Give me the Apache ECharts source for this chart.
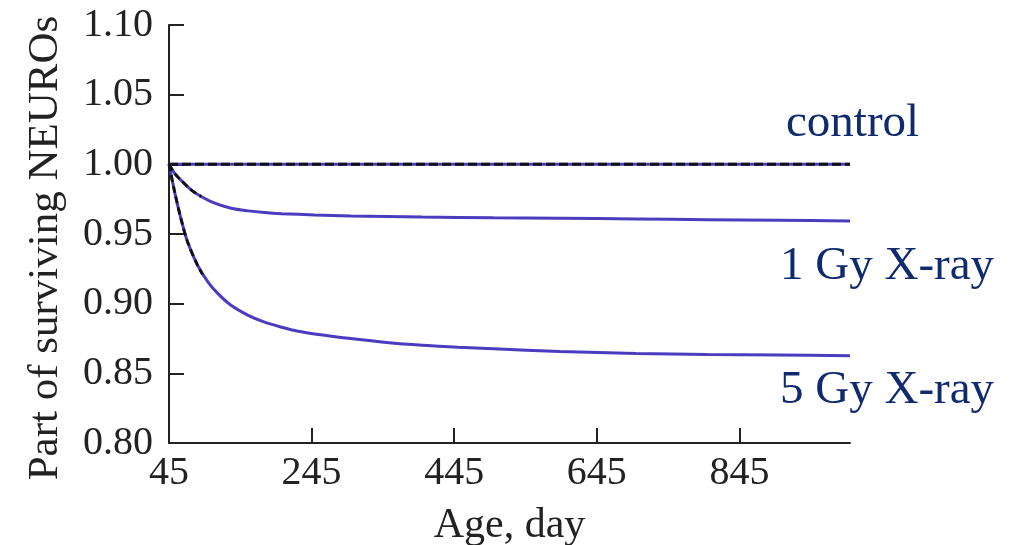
<!DOCTYPE html>
<html>
<head>
<meta charset="utf-8">
<script src="https://cdn.jsdelivr.net/npm/echarts@6/dist/echarts.min.js"></script>
<style>
  html, body { margin: 0; padding: 0; background: #fff; }
  #chart { width: 1023px; height: 545px; }
</style>
</head>
<body>
<div id="chart"></div>
<script>
// Control: no loss over the whole period (age, day / fraction)
const controlDays = [45, 245, 445, 645, 845, 1000];
const control = [1, 1, 1, 1, 1, 1];

// 1 Gy X-ray
const gy1Days = [45, 53, 62, 76, 90, 109, 132, 156, 179, 203, 249, 300, 400, 500, 593, 700, 800, 900, 1000];
const gy1 = [1.000, 0.9935, 0.9885, 0.9817, 0.9769, 0.9721, 0.9685, 0.9666, 0.9654, 0.9646, 0.9637, 0.9630, 0.9622, 0.9617, 0.9613, 0.9608, 0.9603, 0.9598, 0.9594];

// 5 Gy X-ray
const gy5Days = [45, 53, 62, 71, 85, 100, 114, 132, 156, 179, 203, 226, 249, 300, 350, 400, 450, 500, 593, 700, 800, 900, 1000];
const gy5 = [1.000, 0.980, 0.9605, 0.9444, 0.9276, 0.9153, 0.9070, 0.8988, 0.8916, 0.8867, 0.8831, 0.8802, 0.8783, 0.8750, 0.8722, 0.8702, 0.8688, 0.8676, 0.8656, 0.8643, 0.8636, 0.8631, 0.8627];

// Early-stage reference curves (black dashed)
const gy1EarlyDays = [45, 53, 62, 76, 90];
const gy1Early = [1.000, 0.9935, 0.9885, 0.9817, 0.9769];
const gy5EarlyDays = [45, 53, 62, 71, 85, 92];
const gy5Early = [1.000, 0.980, 0.9605, 0.9444, 0.9276, 0.921];

// Tick labels
const xTicks = [45, 245, 445, 645, 845];
const yTicks = [0.80, 0.85, 0.90, 0.95, 1.00, 1.05, 1.10];

// Titles and curve captions
const xTitle = 'Age, day';
const yTitle = 'Part of surviving NEUROs';
const captions = ['control', '1 Gy X-ray', '5 Gy X-ray'];

const pairs = (xs, ys) => xs.map((x, i) => [x, ys[i]]);

const lineBlue = '#4a3cbf';
const textNavy = '#0f2a6e';
const axisDark = '#222';
const serif = '"Liberation Serif", "Times New Roman", serif';

const chart = echarts.init(document.getElementById('chart'), null, { renderer: 'canvas' });

const curve = (name, xs, ys) => ({
  name, type: 'line', data: pairs(xs, ys), showSymbol: false, smooth: 0.3,
  lineStyle: { color: lineBlue, width: 3 }, z: 3
});
const refCurve = (name, xs, ys) => ({
  name, type: 'line', data: pairs(xs, ys), showSymbol: false, smooth: 0.3,
  lineStyle: { color: '#111', width: 2.8, type: [7, 4] }, z: 4
});

chart.setOption({
  animation: false,
  backgroundColor: '#fff',
  grid: { left: 169, right: 173, top: 25, bottom: 102, containLabel: false, outerBoundsMode: 'none' },
  xAxis: {
    type: 'value',
    min: 45,
    max: 1000,
    name: xTitle,
    nameLocation: 'middle',
    nameGap: 62,
    nameTextStyle: { fontFamily: serif, fontSize: 42, color: axisDark },
    axisLine: { show: true, lineStyle: { color: axisDark, width: 2 } },
    axisTick: { show: true, inside: true, length: 15, lineStyle: { color: axisDark, width: 2 }, customValues: xTicks },
    axisLabel: { fontFamily: serif, fontSize: 40, color: axisDark, margin: 10, customValues: xTicks, formatter: v => String(v) },
    splitLine: { show: false }
  },
  yAxis: {
    type: 'value',
    min: 0.8,
    max: 1.1,
    axisLine: { show: true, lineStyle: { color: axisDark, width: 2 } },
    axisTick: { show: true, inside: true, length: 15, lineStyle: { color: axisDark, width: 2 }, customValues: yTicks },
    axisLabel: { fontFamily: serif, fontSize: 40, color: axisDark, margin: 16, customValues: yTicks, formatter: v => v.toFixed(2) },
    splitLine: { show: false }
  },
  series: [
    {
      name: 'control', type: 'line', data: pairs(controlDays, control), showSymbol: false,
      lineStyle: { color: lineBlue, width: 3 }, z: 2
    },
    {
      name: 'control ref', type: 'line', data: pairs(controlDays, control), showSymbol: false,
      lineStyle: { color: '#111', width: 3, type: [9, 4] }, z: 3
    },
    curve('1 Gy X-ray', gy1Days, gy1),
    refCurve('1 Gy ref', gy1EarlyDays, gy1Early),
    curve('5 Gy X-ray', gy5Days, gy5),
    refCurve('5 Gy ref', gy5EarlyDays, gy5Early)
  ],
  graphic: [
    {
      type: 'text', x: 46, y: 248, rotation: Math.PI / 2,
      style: { text: yTitle, font: '43px ' + serif, fill: axisDark, textAlign: 'center', textVerticalAlign: 'middle' }
    },
    { type: 'text', left: 786, top: 100, style: { text: captions[0], font: '47px ' + serif, fill: textNavy } },
    { type: 'text', left: 780, top: 243, style: { text: captions[1], font: '47px ' + serif, fill: textNavy } },
    { type: 'text', left: 780, top: 367, style: { text: captions[2], font: '47px ' + serif, fill: textNavy } }
  ]
});
</script>
</body>
</html>
